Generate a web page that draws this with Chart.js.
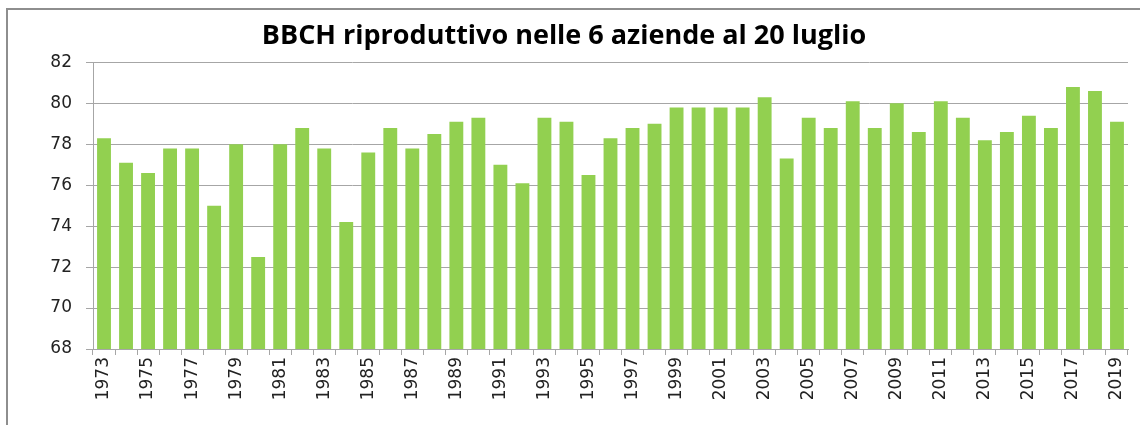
<!DOCTYPE html>
<html>
<head>
<meta charset="utf-8">
<script src="https://cdn.jsdelivr.net/npm/chart.js@4/dist/chart.umd.min.js"></script>
<style>
  html, body { margin: 0; padding: 0; background: #fff; }
  #frame { position: absolute; left: 6px; top: 8px; width: 1200px; height: 500px;
           border-left: 2px solid #8e8e8e; border-top: 2px solid #8e8e8e; }
  #wrap { position: absolute; left: 0; top: 0; width: 1140px; height: 425px; }
</style>
</head>
<body>
<div id="frame"></div>
<div id="wrap"><canvas id="bbchChart" width="1140" height="425"></canvas></div>
<script>
// anni 1973-2019
const years = [
  '1973','1974','1975','1976','1977','1978','1979','1980','1981','1982',
  '1983','1984','1985','1986','1987','1988','1989','1990','1991','1992',
  '1993','1994','1995','1996','1997','1998','1999','2000','2001','2002',
  '2003','2004','2005','2006','2007','2008','2009','2010','2011','2012',
  '2013','2014','2015','2016','2017','2018','2019'
];

// BBCH riproduttivo medio al 20 luglio
const bbchValues = [
  78.3, 77.1, 76.6, 77.8, 77.8, 75.0, 78.0, 72.5, 78.0, 78.8,
  77.8, 74.2, 77.6, 78.8, 77.8, 78.5, 79.1, 79.3, 77.0, 76.1,
  79.3, 79.1, 76.5, 78.3, 78.8, 79.0, 79.8, 79.8, 79.8, 79.8,
  80.3, 77.3, 79.3, 78.8, 80.1, 78.8, 80.0, 78.6, 80.1, 79.3,
  78.2, 78.6, 79.4, 78.8, 80.8, 80.6, 79.1
];

const yTicks = [68, 70, 72, 74, 76, 78, 80, 82];

const gridColor = '#a6a6a6';
const barColor = '#92d050';

new Chart(document.getElementById('bbchChart').getContext('2d'), {
    type: 'bar',
    data: {
        labels: years,
        datasets: [{
            label: 'BBCH',
            data: bbchValues,
            backgroundColor: barColor,
            borderWidth: 0,
            barPercentage: 0.63,
            categoryPercentage: 1.0
        }]
    },
    options: {
        responsive: false,
        animation: false,
        layout: { padding: { left: 0, right: 12, top: 0, bottom: 0 } },
        plugins: {
            legend: { display: false },
            tooltip: { enabled: false },
            title: {
                display: true,
                text: 'BBCH riproduttivo nelle 6 aziende al 20 luglio',
                color: '#000',
                font: { family: 'Open Sans', size: 27, weight: 'bold' },
                padding: { top: 20, bottom: 10 }
            }
        },
        scales: {
            y: {
                min: yTicks[0],
                max: yTicks[yTicks.length - 1],
                afterBuildTicks: axis => { axis.ticks = yTicks.map(v => ({ value: v })); },
                afterFit: axis => { axis.width = 93; },
                ticks: {
                    color: '#222',
                    padding: 14,
                    font: { family: 'DejaVu Sans', size: 17 }
                },
                grid: { color: gridColor, lineWidth: 1, tickLength: 7 },
                border: { color: gridColor, width: 1 }
            },
            x: {
                afterFit: axis => { axis.height = 76; },
                ticks: {
                    autoSkip: false,
                    minRotation: 90,
                    maxRotation: 90,
                    padding: 2,
                    color: '#222',
                    font: { family: 'DejaVu Sans', size: 17 },
                    // solo un anno su due, come nell'originale
                    callback: function (value, index) {
                        return index % 2 === 0 ? years[index] : '';
                    }
                },
                grid: { drawOnChartArea: false, drawTicks: true, tickLength: 6, color: gridColor, offset: true },
                border: { color: gridColor, width: 1 }
            }
        }
    }
});
</script>
</body>
</html>
